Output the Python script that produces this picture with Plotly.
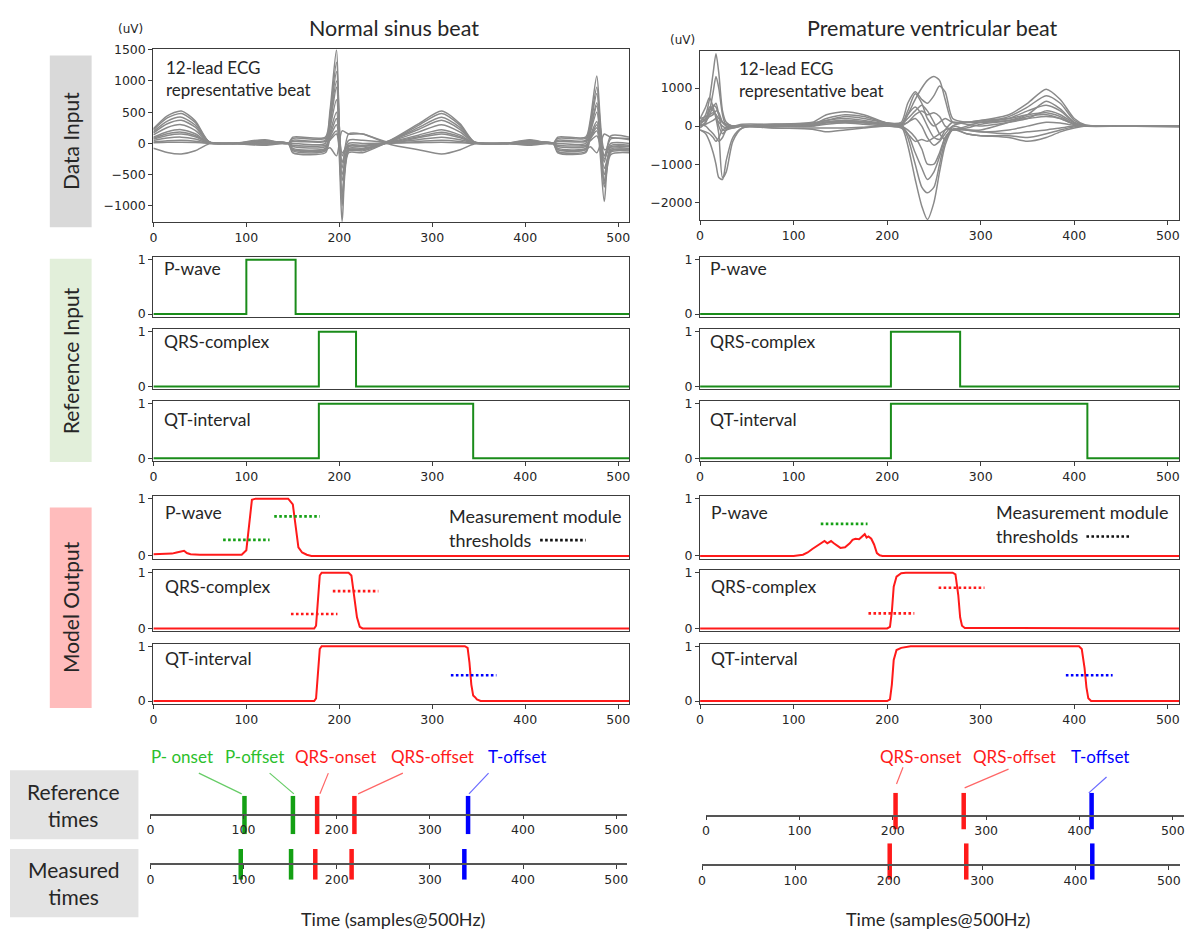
import plotly.graph_objects as go

W, H = 1192, 941

# ======================= DATA =======================
X_TICKS = [0, 100, 200, 300, 400, 500]
NS_ECG_YTICKS = [-1000, -500, 0, 500, 1000, 1500]
PVC_ECG_YTICKS = [-2000, -1000, 0, 1000]

# Normal sinus beat - 12-lead representative beat (uV), read at key samples
NS_ECG_X = [0, 15, 30, 45, 60, 85, 120, 145, 150, 185, 190, 197, 203, 210, 225,
            255, 285, 310, 330, 345, 380, 405, 430, 435, 465, 470, 477, 485, 492, 512]
NS_ECG_LEADS = [
    [234, 442, 520, 364, 26, 0, 50, 0, 100, 100, 525, 1500, -300, -100, -100, 52, 312, 520, 312, 26, 0, 50, 0, 100, 100, 378, 1080, -100, -60, -50],
    [216, 408, 480, 336, 24, 0, 40, 0, 50, 50, 455, 1300, -600, -50, -50, 48, 288, 480, 288, 24, 0, 40, 0, 50, 50, 315, 900, -400, -120, -100],
    [189, 357, 420, 294, 21, 0, 30, 0, -100, -100, 350, 1000, -1000, -100, -100, 42, 252, 420, 252, 21, 0, 30, 0, -100, -100, 210, 600, -700, -180, -150],
    [166, 314, 370, 259, 18, 0, -20, 0, -150, -150, 70, 200, -1250, -150, -150, 37, 222, 370, 222, 18, 0, -20, 0, -150, -150, 70, 200, -930, -120, -100],
    [135, 255, 300, 210, 15, 0, 30, 0, -120, -120, 245, 700, -800, -120, -120, 30, 180, 300, 180, 15, 0, 30, 0, -130, -130, 175, 500, -600, -140, -120],
    [99, 187, 220, 154, 11, 0, 20, 0, -80, -80, 175, 500, -500, -80, -80, 22, 132, 220, 132, 11, 0, 20, 0, -80, -80, 122, 350, -500, -96, -80],
    [81, 153, 180, 126, 9, 0, 60, 0, 80, 80, 315, 900, -200, 50, 50, 18, 108, 180, 108, 9, 0, 60, 0, 80, 80, 228, 650, -200, 72, 60],
    [68, 128, 150, 105, 8, 0, -30, 0, -50, -50, 105, 300, -400, 150, 150, 15, 90, 150, 90, 8, 0, -30, 0, -50, -50, 88, 250, -300, 120, 100],
    [45, 85, 100, 70, 5, 0, 20, 0, 30, 30, 140, 400, -150, -30, -30, 10, 60, 100, 60, 5, 0, 20, 0, 30, 30, 105, 300, -250, -36, -30],
    [22, 42, 50, 35, 2, 0, 10, 0, -30, -30, 52, 150, -300, 0, 0, 5, 30, 50, 30, 2, 0, 10, 0, -30, -30, 42, 120, -200, 0, 0],
    [9, 17, 20, 14, 1, 0, 0, 0, 0, 0, 400, 1150, -900, -50, -50, 2, 12, 20, 12, 1, 0, 0, 0, 0, 0, 280, 800, -650, -60, -50],
    [-77, -145, -170, -119, -8, 0, -20, 0, -100, -100, -70, -200, 200, 150, 150, -17, -102, -170, -102, -8, 0, -20, 0, -100, -100, -52, -150, 150, 96, 80],
]

# Premature ventricular beat - 12-lead representative beat (uV)
PVC_ECG_X = [0, 6, 10, 14, 17, 20, 24, 28, 35, 45, 80, 120, 135, 155, 175, 200, 215, 222, 230, 237,
             243, 250, 256, 262, 270, 285, 300, 330, 350, 370, 385, 400, 412, 450, 512]
PVC_ECG_LEADS = [
    [100, 300, 700, 1400, 1900, 1400, 400, 100, 0, 0, 50, 100, 300, 380, 300, 80, 50, 300, 700, 1000, 1200, 1300, 1200, 700, 100, 100, 150, 300, 600, 970, 700, 200, 30, 0, 0],
    [-100, -200, -400, -700, -1000, -1350, -1400, -900, -300, -50, 0, 50, 150, 200, 150, 50, 0, -500, -1400, -2100, -2450, -2000, -1200, -500, -100, -200, -250, -300, -400, -300, -150, -50, 0, 0, 0],
    [200, 500, 750, 500, 200, -200, -1350, -1200, -400, -50, 0, 0, 100, 150, 100, 50, 50, -300, -1000, -1600, -1750, -1600, -1000, -400, -100, -100, -100, 100, 250, 300, 200, 50, 0, 0, 0],
    [50, 200, 400, 900, 1300, 1000, 300, 0, -50, 0, 50, 50, 200, 300, 250, 80, 100, 600, 900, 700, 600, 800, 1050, 900, 200, 100, 100, 250, 500, 800, 600, 150, 20, 0, 0],
    [0, 100, 300, 500, 600, 300, -100, -100, -50, 0, 0, 20, 100, 150, 100, 50, 0, -200, -700, -1100, -1400, -1200, -800, -300, -100, -50, 50, 150, 300, 650, 450, 100, 10, 0, -20],
    [-50, 100, 500, 400, 300, 0, -200, -100, 0, 0, -50, -80, -150, -100, -50, 0, 0, 300, 500, 300, 0, -300, -350, -100, 100, 50, 0, 100, 200, 400, 300, 80, 0, 0, 0],
    [100, 150, 250, 300, 400, 350, 100, 0, 0, 0, 30, 50, 100, 120, 100, 50, 50, 200, 400, 550, 400, 100, -200, -350, 0, 100, 100, 150, 200, 250, 200, 50, 0, 0, 0],
    [-100, -150, -200, -300, -400, -300, -100, -50, 0, 0, -50, -50, -50, -50, -30, 0, -50, -200, -400, -350, -400, -300, -200, -100, -50, -200, -250, -250, -300, -200, -100, -20, 0, 0, 0],
    [150, 200, 400, 550, 500, 300, 100, 50, 0, 50, 50, 80, 150, 250, 200, 80, 50, 100, 300, 400, 300, 350, 250, 0, -100, 0, 100, 200, 400, 550, 400, 100, 10, 0, 0],
    [0, 50, 100, 150, 200, 100, 0, -50, -30, 0, 0, 0, 50, 80, 50, 0, 0, -100, -300, -600, -1000, -1000, -700, -300, -100, -100, -150, -100, 0, 100, 80, 20, 0, 0, 0],
    [50, 0, -100, -200, -300, -400, -300, -100, 0, 0, 0, 30, 80, 100, 80, 30, 0, 100, 200, 0, -300, -500, -400, -200, 0, -100, -150, -200, -150, -100, -50, 0, 0, 0, 0],
    [200, 250, 300, 350, 300, 200, 100, 50, 0, 0, 20, 40, 100, 150, 120, 60, 50, 400, 850, 600, 200, 0, 100, 200, 100, 100, 150, 200, 300, 350, 250, 50, 0, 0, 0],
]

# Reference input masks (step change points)
NS_REF_P = ([0, 100, 153, 512], [0, 1, 0, 0])
NS_REF_QRS = ([0, 178, 218, 512], [0, 1, 0, 0])
NS_REF_QT = ([0, 178, 344, 512], [0, 1, 0, 0])
PVC_REF_P = ([0, 512], [0, 0])
PVC_REF_QRS = ([0, 204, 278, 512], [0, 1, 0, 0])
PVC_REF_QT = ([0, 204, 414, 512], [0, 1, 0, 0])

# Model output probabilities
NS_OUT_P = ([0, 10, 20, 25, 30, 33, 36, 40, 50, 70, 95, 100, 103, 106, 110, 145, 150, 153, 156, 160, 165, 170, 512],
            [0.03, 0.03, 0.04, 0.06, 0.08, 0.09, 0.05, 0.03, 0.02, 0.02, 0.02, 0.1, 0.6, 0.98, 1.0, 1.0, 0.9, 0.5, 0.15, 0.06, 0.02, 0.0, 0.0])
NS_OUT_QRS = ([0, 173, 175, 177, 179, 181, 210, 213, 216, 219, 222, 225, 512],
              [0, 0, 0.05, 0.5, 0.95, 1.0, 1.0, 0.95, 0.6, 0.2, 0.03, 0, 0])
NS_OUT_QT = ([0, 173, 175, 177, 179, 181, 335, 338, 340, 342, 344, 346, 348, 352, 512],
             [0, 0, 0.05, 0.5, 0.95, 1, 1, 0.97, 0.7, 0.3, 0.1, 0.07, 0.03, 0, 0])
PVC_OUT_P = ([0, 100, 110, 115, 120, 125, 130, 133, 136, 140, 143, 147, 150, 155, 160, 163, 166, 170, 173, 176, 178, 180, 183, 186, 189, 192, 195, 512],
             [0, 0, 0.02, 0.06, 0.12, 0.17, 0.23, 0.26, 0.22, 0.26, 0.22, 0.17, 0.14, 0.15, 0.22, 0.28, 0.30, 0.29, 0.33, 0.38, 0.32, 0.34, 0.3, 0.2, 0.05, 0.01, 0, 0])
PVC_OUT_QRS = ([0, 200, 203, 205, 207, 210, 215, 220, 270, 273, 276, 278, 280, 283, 512],
               [0, 0, 0.03, 0.3, 0.75, 0.93, 0.99, 1.0, 1.0, 0.97, 0.6, 0.2, 0.05, 0.01, 0])
PVC_OUT_QT = ([0, 200, 203, 205, 207, 210, 215, 225, 405, 408, 411, 413, 415, 418, 512],
              [0, 0, 0.03, 0.3, 0.75, 0.93, 0.97, 1.0, 1.0, 0.95, 0.6, 0.25, 0.05, 0.0, 0])

# Measurement module thresholds: (start, end, level)
NS_THR_P = [(75, 125, 0.28), (130, 179, 0.69)]
NS_THR_QRS = [(148, 198, 0.26), (193, 242, 0.67)]
NS_THR_QT = [(320, 369, 0.47)]
PVC_THR_P = [(129, 179, 0.56)]
PVC_THR_QRS = [(180, 229, 0.27), (255, 304, 0.73)]
PVC_THR_QT = [(391, 441, 0.47)]

# Fiducial times (samples)
NS_EVENTS = ["P- onset", "P-offset", "QRS-onset", "QRS-offset", "T-offset"]
NS_REF_TIMES = [101, 153, 179, 219, 341]
NS_MEAS_TIMES = [97, 151, 177, 216, 337]
PVC_EVENTS = ["QRS-onset", "QRS-offset", "T-offset"]
PVC_REF_TIMES = [203, 276, 413]
PVC_MEAS_TIMES = [201, 283, 418]

# ======================= STYLE / LAYOUT =======================
GREEN_REF = '#1a8c1a'
GREEN_BAR = '#14a014'
GREEN_TXT = '#2cbf2c'
RED = '#ff1a1a'
BLUE = '#0000ff'
GRAY = '#8a8a8a'
AX = '#3c3c3c'
TXT = '#262626'
SANS = 'Lato'
TICKF = dict(family='DejaVu Sans', size=12.5, color=TXT)

NS_COLORS = [GREEN_BAR, GREEN_BAR, RED, RED, BLUE]
NS_TXT_COLORS = [GREEN_TXT, GREEN_TXT, RED, RED, BLUE]
PVC_COLORS = [RED, RED, BLUE]

LEFT_X = (150, 628)
RIGHT_X = (699, 1180)
XR = [0, 512]


def panel_box(y1, y0):
    pad = 0.05 * (y0 - y1)
    return (y1 - pad, y0 + pad)


REF_ROWS = [(256, 311), (329, 384.5), (402, 457)]
MODEL_ROWS = [(498, 556), (573, 629.5), (647.5, 703)]

fig = go.Figure()
layout = {}
annotations = []
shapes = []
counter = [0]


def fx(a, b):
    return [a / W, b / W]


def fy(top, bottom):
    return [1 - bottom / H, 1 - top / H]


def add_axes(xpx, ypx, yrange, ytick=None, xlabels=True, free_base=None):
    counter[0] += 1
    n = counter[0]
    sx = '' if n == 1 else str(n)
    xa, ya = 'xaxis' + sx, 'yaxis' + sx
    xr, yr = 'x' + sx, 'y' + sx
    xdict = dict(domain=fx(*xpx), range=XR, showgrid=False, zeroline=False,
                 showline=True, linecolor=AX, linewidth=1.2, tickfont=TICKF,
                 tickvals=X_TICKS, ticks='outside' if xlabels else '',
                 ticklen=4, tickcolor=AX, showticklabels=xlabels, fixedrange=True)
    if free_base is not None:
        xdict.update(anchor='free', position=1 - free_base / H, mirror=False,
                     linecolor='#555555', linewidth=1.5)
        ydict = dict(domain=fy(*ypx), range=[-1, 1], visible=False, anchor=xr,
                     fixedrange=True)
    else:
        xdict.update(anchor=yr, mirror=True)
        ydict = dict(domain=fy(*ypx), range=yrange, showgrid=False, zeroline=False,
                     showline=True, mirror=True, linecolor=AX, linewidth=1.2,
                     tickfont=TICKF, tickvals=ytick, ticks='outside', ticklen=4,
                     tickcolor=AX, anchor=xr, fixedrange=True)
    layout[xa] = xdict
    layout[ya] = ydict
    return xr, yr


def line(xr, yr, x, y, color, width, shape='linear', dash=None, smoothing=None):
    ln = dict(color=color, width=width, shape=shape)
    if dash:
        ln['dash'] = dash
    if smoothing is not None:
        ln['smoothing'] = smoothing
    fig.add_trace(go.Scatter(x=x, y=y, xaxis=xr, yaxis=yr, mode='lines',
                             line=ln, showlegend=False, hoverinfo='skip'))


def label(xr, yr, x, y, text, size=17.5, anchor='left', color=TXT):
    annotations.append(dict(x=x, y=y, xref=xr, yref=yr, text=text, showarrow=False,
                            xanchor=anchor, yanchor='middle', align='left',
                            font=dict(family=SANS, size=size, color=color)))


def column(colx, ecg_box, ecg_x, leads, ecg_range, ecg_ticks, ecg_txt_pos,
           refs, outs, thrs, thr_colors, legend_pos, tl):
    xr, yr = add_axes(colx, ecg_box, ecg_range, ecg_ticks)
    for lead in leads:
        line(xr, yr, ecg_x, lead, GRAY, 1.5, shape='spline', smoothing=0.7)
    label(xr, yr, ecg_txt_pos[0], ecg_txt_pos[1],
          '12-lead ECG<br>representative beat', size=17)
    names = ['P-wave', 'QRS-complex', 'QT-interval']
    ref_lab_y = [0.83, 0.82, 0.71]
    out_lab_y = [0.76, 0.76, 0.77]
    for i, (row, (rx, ry)) in enumerate(zip(REF_ROWS, refs)):
        xr, yr = add_axes(colx, panel_box(*row), [-0.05, 1.05], [0, 1], xlabels=(i == 2))
        line(xr, yr, rx, ry, GREEN_REF, 2, shape='hv')
        label(xr, yr, 9, ref_lab_y[i], names[i])
    for i, (row, (ox, oy)) in enumerate(zip(MODEL_ROWS, outs)):
        xr, yr = add_axes(colx, panel_box(*row), [-0.05, 1.05], [0, 1], xlabels=(i == 2))
        line(xr, yr, ox, oy, RED, 2)
        for (a, b, v) in thrs[i]:
            line(xr, yr, [a, b], [v, v], thr_colors[i], 2.6, dash='2.6px,2.4px')
        label(xr, yr, 10, out_lab_y[i], names[i])
        if i == 0:
            lx, ly1, ly2, dx0, dx1 = legend_pos
            label(xr, yr, lx, ly1, 'Measurement module', size=18)
            label(xr, yr, lx, ly2, 'thresholds', size=18)
            line(xr, yr, [dx0, dx1], [ly2, ly2], '#111111', 2.6, dash='2.6px,2.4px')
    for (tx, box_, base, times, colors) in tl:
        xr, yr = add_axes(tx, box_, [-1, 1], free_base=base)
        for t, c in zip(times, colors):
            line(xr, yr, [t, t], [-1, 1], c, 4.5)


column(LEFT_X, (43, 218), NS_ECG_X, NS_ECG_LEADS, [-1263, 1505], NS_ECG_YTICKS,
       (11, 1040),
       [NS_REF_P, NS_REF_QRS, NS_REF_QT], [NS_OUT_P, NS_OUT_QRS, NS_OUT_QT],
       [NS_THR_P, NS_THR_QRS, NS_THR_QT], [GREEN_BAR, RED, BLUE],
       (316, 0.70, 0.275, 416, 465),
       [((147, 626), (799, 838), 818, NS_REF_TIMES, NS_COLORS),
        ((147, 626), (853, 884), 868, NS_MEAS_TIMES, NS_COLORS)])
left_ref_axis = 'x8'

column(RIGHT_X, (45, 216), PVC_ECG_X, PVC_ECG_LEADS, [-2470, 1960], PVC_ECG_YTICKS,
       (40, 1230),
       [PVC_REF_P, PVC_REF_QRS, PVC_REF_QT], [PVC_OUT_P, PVC_OUT_QRS, PVC_OUT_QT],
       [PVC_THR_P, PVC_THR_QRS, PVC_THR_QT], [GREEN_BAR, RED, BLUE],
       (314, 0.77, 0.34, 413, 461),
       [((705, 1185), (796, 833), 819, PVC_REF_TIMES, PVC_COLORS),
        ((701, 1181), (847, 884), 869, PVC_MEAS_TIMES, PVC_COLORS)])
right_ref_axis = 'x17'

# event labels + leader lines (positions in samples on each reference timeline)
NS_LABEL_X = [34, 112, 199, 303, 394]
NS_LEADER = [(52, 98), (128, 154), (191, 182), (271, 223), (363, 342)]
for name, lx, (a, b), c, lc in zip(NS_EVENTS, NS_LABEL_X, NS_LEADER, NS_TXT_COLORS,
                                   ['#66cc66', '#66cc66', '#ff6666', '#ff6666', '#6a6aff']):
    annotations.append(dict(x=lx, y=1 - 759 / H, xref=left_ref_axis, yref='paper', text=name,
                            showarrow=False, xanchor='center', yanchor='middle',
                            font=dict(family=SANS, size=17, color=c)))
    shapes.append(dict(type='line', xref=left_ref_axis, yref='paper', x0=a, x1=b,
                       y0=1 - 776 / H, y1=1 - 797 / H, line=dict(color=lc, width=1.2)))

PVC_LABEL_X = [230, 330, 422]
PVC_LEADER = [((211, 770), (204, 787)), ((324, 772), (277, 791)), ((429, 780), (410, 796))]
for name, lx, ((a, ya), (b, yb)), c, lc in zip(PVC_EVENTS, PVC_LABEL_X, PVC_LEADER,
                                               [RED, RED, BLUE], ['#ff6666', '#ff6666', '#6a6aff']):
    annotations.append(dict(x=lx, y=1 - 759 / H, xref=right_ref_axis, yref='paper', text=name,
                            showarrow=False, xanchor='center', yanchor='middle',
                            font=dict(family=SANS, size=17, color=c)))
    shapes.append(dict(type='line', xref=right_ref_axis, yref='paper', x0=a, x1=b,
                       y0=1 - ya / H, y1=1 - yb / H, line=dict(color=lc, width=1.2)))


def paper_text(xpx, ypx, text, size, angle=0, family=SANS, color=TXT):
    annotations.append(dict(x=xpx / W, y=1 - ypx / H, xref='paper', yref='paper', text=text,
                            showarrow=False, xanchor='center', yanchor='middle',
                            textangle=angle, font=dict(family=family, size=size, color=color)))


def box(x0, y0, x1, y1, color):
    shapes.append(dict(type='rect', xref='paper', yref='paper', x0=x0 / W, x1=x1 / W,
                       y0=1 - y1 / H, y1=1 - y0 / H, fillcolor=color, line=dict(width=0),
                       layer='below'))


# titles and units
paper_text(392, 21, 'Normal sinus beat', 21.5)
paper_text(932, 21, 'Premature ventricular beat', 21.5)
paper_text(127, 22, '(uV)', 12, family='DejaVu Sans')
paper_text(681, 33, '(uV)', 12, family='DejaVu Sans')
paper_text(391, 924, 'Time (samples@500Hz)', 18)
paper_text(938, 924, 'Time (samples@500Hz)', 18)

# row label boxes
box(46, 49, 88, 223, '#d9d9d9')
paper_text(67, 136, 'Data Input', 21, angle=-90)
box(46, 255, 88, 461, '#e2efda')
paper_text(67, 358, 'Reference Input', 21, angle=-90)
box(46, 507, 88, 710, '#ffbcbc')
paper_text(67, 608, 'Model Output', 21, angle=-90)
box(6, 773, 135, 843, '#e3e3e3')
paper_text(70, 808, 'Reference<br>times', 21)
box(6, 853, 135, 922, '#e3e3e3')
paper_text(70, 887, 'Measured<br>times', 21)

fig.update_layout(width=W, height=H, autosize=False,
                  margin=dict(l=0, r=0, t=0, b=0, pad=0),
                  paper_bgcolor='white', plot_bgcolor='white',
                  showlegend=False, annotations=annotations, shapes=shapes,
                  **layout)

fig.write_html('out.html')
